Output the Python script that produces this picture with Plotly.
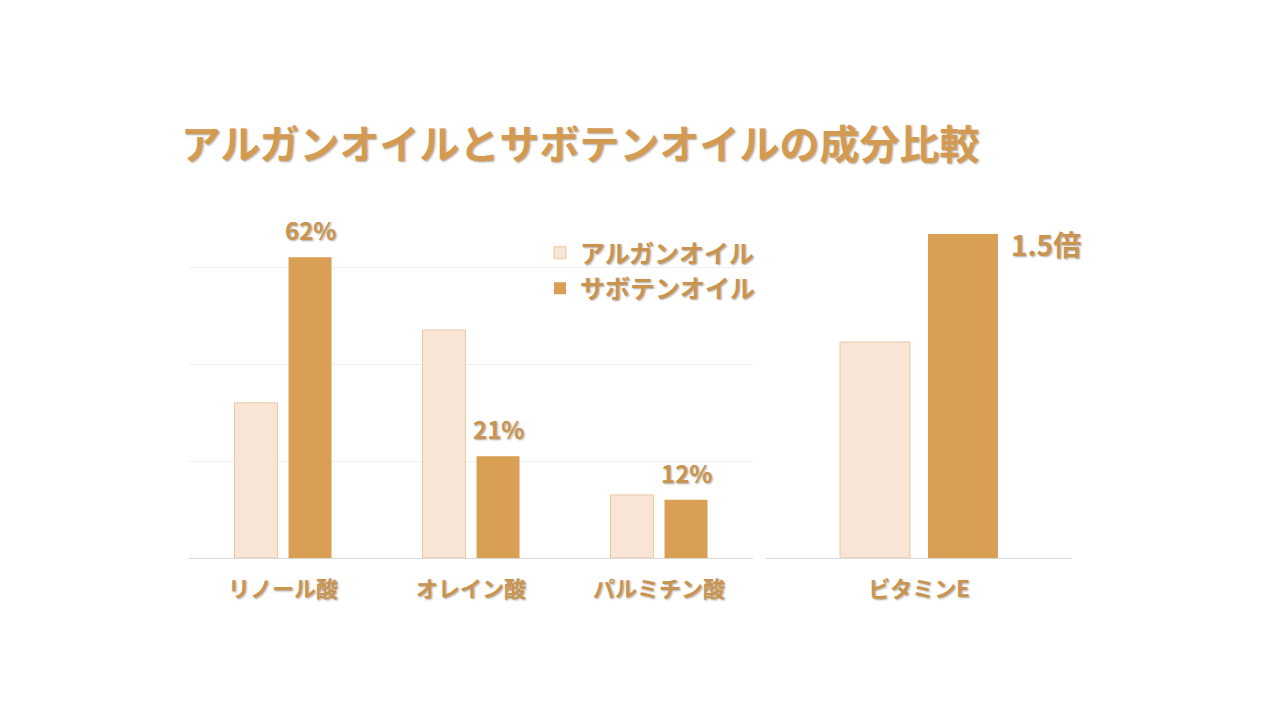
import plotly.graph_objects as go

title_text = "アルガンオイルとサボテンオイルの成分比較"
series_names = ["アルガンオイル", "サボテンオイル"]
fatty_categories = ["リノール酸", "オレイン酸", "パルミチン酸"]
argan_fatty = [32, 47, 13]
cactus_fatty = [62, 21, 12]
vit_categories = ["ビタミンE"]
argan_vit = [1.0]
cactus_vit = [1.5]
vit_label = "1.5倍"

FONT = "Noto Sans CJK JP"
TXT = "#C9944F"
SHADOW = "1px 1px 2px rgba(80,60,40,0.45)"
LIGHT = "#F8E5D6"
LIGHT_LINE = "#EBC6A2"
DARK = "#D89F55"

fig = go.Figure()
fig.add_trace(go.Bar(x=fatty_categories, y=argan_fatty, name=series_names[0],
                     marker=dict(color=LIGHT, line=dict(color=LIGHT_LINE, width=1)),
                     xaxis="x", yaxis="y", legendgroup="a"))
fig.add_trace(go.Bar(x=fatty_categories, y=cactus_fatty, name=series_names[1],
                     marker=dict(color=DARK, line=dict(width=0)),
                     xaxis="x", yaxis="y", legendgroup="b"))
fig.add_trace(go.Bar(x=vit_categories, y=argan_vit, name=series_names[0], showlegend=False,
                     marker=dict(color=LIGHT, line=dict(color=LIGHT_LINE, width=1)),
                     xaxis="x2", yaxis="y2", legendgroup="a"))
fig.add_trace(go.Bar(x=vit_categories, y=cactus_vit, name=series_names[1], showlegend=False,
                     marker=dict(color=DARK, line=dict(width=0)),
                     xaxis="x2", yaxis="y2", legendgroup="b"))

label_font = dict(family=FONT, size=24, color=TXT, weight="bold", shadow=SHADOW)
for cat, v in zip(fatty_categories, cactus_fatty):
    fig.add_annotation(x=cat, y=v, xref="x", yref="y", text=f"{v}%", showarrow=False,
                       xanchor="center", yanchor="bottom", xshift=27, yshift=8,
                       font=label_font)

fig.add_annotation(x=vit_categories[0], y=cactus_vit[0], xref="x2", yref="y2",
                   text=vit_label, showarrow=False, xanchor="left", yanchor="middle",
                   xshift=90, yshift=-10,
                   font=dict(family=FONT, size=28, color=TXT, weight="bold", shadow=SHADOW))

tickfont = dict(family=FONT, size=22, color=TXT, weight="bold", shadow=SHADOW)
fig.update_layout(
    width=1280, height=720,
    margin=dict(l=0, r=0, t=0, b=0),
    paper_bgcolor="white", plot_bgcolor="white",
    barmode="group", bargap=0.425, bargroupgap=0.205,
    title=dict(text=title_text, x=181/1280, xanchor="left", y=1-145/720, yanchor="middle",
               font=dict(family=FONT, size=40, color="#D39B52", weight="bold", shadow=SHADOW)),
    xaxis=dict(domain=[189/1280, 753/1280], showline=True, linecolor="#D9D9D9", linewidth=1,
               ticks="", tickfont=tickfont, ticklabelstandoff=12, anchor="y"),
    yaxis=dict(domain=[0.225, 0.6965], range=[0, 70], showgrid=True, gridcolor="#F0F0F0",
               dtick=20, showticklabels=False, zeroline=False, anchor="x"),
    xaxis2=dict(domain=[766/1280, 1072/1280], range=[-0.5, 0.5], showline=True,
                linecolor="#D9D9D9", linewidth=1,
                ticks="", tickfont=tickfont, ticklabelstandoff=12, anchor="y2"),
    yaxis2=dict(domain=[0.225, 0.6965], range=[0, 1.572], showgrid=False,
                showticklabels=False, zeroline=False, anchor="x2"),
    legend=dict(x=540/1280, y=1-230/720, xanchor="left", yanchor="top",
                font=dict(family=FONT, size=25, color=TXT, weight="bold", shadow=SHADOW),
                bgcolor="rgba(0,0,0,0)", tracegroupgap=0, itemwidth=30),
    showlegend=True,
)

fig.write_html("out.html")
